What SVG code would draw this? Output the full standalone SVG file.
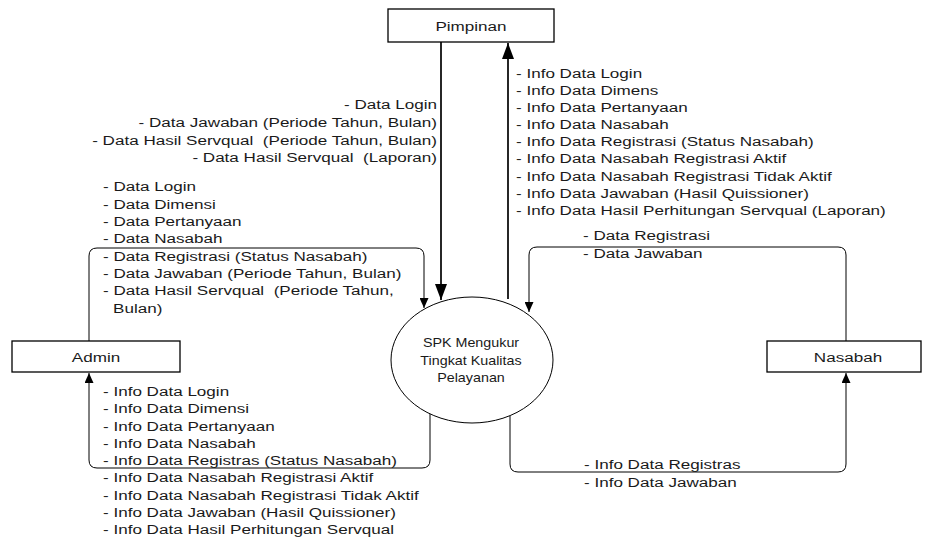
<svg xmlns="http://www.w3.org/2000/svg" width="925" height="539" viewBox="0 0 925 539">
<style>
  text { font-family: "Liberation Sans", Arial, sans-serif; font-size: 13.5px; fill: #1a1a1a; }
  .box { fill: #fff; stroke: #000; stroke-width: 1.3; }
  .flow { fill: none; stroke: #000; stroke-width: 1; }
  .main { fill: none; stroke: #000; stroke-width: 1.7; }
</style>
<defs>
  <marker id="big" viewBox="0 0 16 12" refX="16" refY="6" markerWidth="16" markerHeight="12" markerUnits="userSpaceOnUse" orient="auto">
    <path d="M0,0 L16,6 L0,12 z" fill="#000"/>
  </marker>
  <marker id="small" viewBox="0 0 10 9" refX="10" refY="4.5" markerWidth="10" markerHeight="9" markerUnits="userSpaceOnUse" orient="auto">
    <path d="M0,0 L10,4.5 L0,9 z" fill="#000"/>
  </marker>
</defs>
<rect width="925" height="539" fill="#fff"/>

<g id="connectors">
  <path class="main" d="M441,42 V300" marker-end="url(#big)"/>
  <path class="main" d="M508,299 V43" marker-end="url(#big)"/>
  <path class="flow" d="M89,341 V256 Q89,248 97,248 H416 Q424,248 424,256 V308" marker-end="url(#small)"/>
  <path class="flow" d="M430,412 V460 Q430,468 422,468 H97 Q89,468 89,460 V373" marker-end="url(#small)"/>
  <path class="flow" d="M846,341 V255 Q846,247 838,247 H537 Q529,247 529,255 V312" marker-end="url(#small)"/>
  <path class="flow" d="M510,415 V464 Q510,472 518,472 H838 Q846,472 846,464 V373" marker-end="url(#small)"/>
</g>

<g id="pimpinan">
  <rect class="box" x="388" y="9" width="166" height="33"/>
  <g transform="translate(471,0) scale(1.265,1)"><text x="0" y="31" text-anchor="middle">Pimpinan</text></g>
</g>

<g id="admin">
  <rect class="box" x="12" y="341" width="168" height="31"/>
  <g transform="translate(96,0) scale(1.265,1)"><text x="0" y="362" text-anchor="middle">Admin</text></g>
</g>

<g id="nasabah">
  <rect class="box" x="767" y="341" width="154" height="31"/>
  <g transform="translate(848,0) scale(1.265,1)"><text x="0" y="362" text-anchor="middle">Nasabah</text></g>
</g>

<g id="spk">
  <ellipse cx="472" cy="360" rx="81" ry="63" fill="#fff" stroke="#000" stroke-width="1"/>
  <g transform="translate(471,0) scale(1.06,1)">
    <text x="0" y="347" text-anchor="middle">SPK Mengukur</text>
    <text x="0" y="365" text-anchor="middle">Tingkat Kualitas</text>
    <text x="0" y="382" text-anchor="middle">Pelayanan</text>
  </g>
</g>

<g id="labels">
  <g transform="translate(437,0) scale(1.265,1)" text-anchor="end">
    <text x="0" y="109">- Data Login</text>
    <text x="0" y="127">- Data Jawaban (Periode Tahun, Bulan)</text>
    <text x="0" y="145">- Data Hasil Servqual&#160; (Periode Tahun, Bulan)</text>
    <text x="0" y="162">- Data Hasil Servqual&#160; (Laporan)</text>
  </g>
  <g transform="translate(516,0) scale(1.265,1)">
    <text x="0" y="78">- Info Data Login</text>
    <text x="0" y="95.1">- Info Data Dimens</text>
    <text x="0" y="112.2">- Info Data Pertanyaan</text>
    <text x="0" y="129.3">- Info Data Nasabah</text>
    <text x="0" y="146.4">- Info Data Registrasi (Status Nasabah)</text>
    <text x="0" y="163.5">- Info Data Nasabah Registrasi Aktif</text>
    <text x="0" y="180.6">- Info Data Nasabah Registrasi Tidak Aktif</text>
    <text x="0" y="197.7">- Info Data Jawaban (Hasil Quissioner)</text>
    <text x="0" y="214.8">- Info Data Hasil Perhitungan Servqual (Laporan)</text>
  </g>
  <g transform="translate(103,0) scale(1.265,1)">
    <text x="0" y="191.5">- Data Login</text>
    <text x="0" y="208.8">- Data Dimensi</text>
    <text x="0" y="226.1">- Data Pertanyaan</text>
    <text x="0" y="243.4">- Data Nasabah</text>
    <text x="0" y="260.7">- Data Registrasi (Status Nasabah)</text>
    <text x="0" y="278">- Data Jawaban (Periode Tahun, Bulan)</text>
    <text x="0" y="295.3">- Data Hasil Servqual&#160; (Periode Tahun,</text>
    <text x="8" y="312.6">Bulan)</text>
  </g>
  <g transform="translate(103,0) scale(1.265,1)">
    <text x="0" y="396">- Info Data Login</text>
    <text x="0" y="413.3">- Info Data Dimensi</text>
    <text x="0" y="430.6">- Info Data Pertanyaan</text>
    <text x="0" y="447.9">- Info Data Nasabah</text>
    <text x="0" y="465.2">- Info Data Registras (Status Nasabah)</text>
    <text x="0" y="482.5">- Info Data Nasabah Registrasi Aktif</text>
    <text x="0" y="499.8">- Info Data Nasabah Registrasi Tidak Aktif</text>
    <text x="0" y="517.1">- Info Data Jawaban (Hasil Quissioner)</text>
    <text x="0" y="534.4">- Info Data Hasil Perhitungan Servqual</text>
  </g>
  <g transform="translate(583,0) scale(1.265,1)">
    <text x="0" y="240">- Data Registrasi</text>
    <text x="0" y="258">- Data Jawaban</text>
  </g>
  <g transform="translate(584,0) scale(1.265,1)">
    <text x="0" y="469">- Info Data Registras</text>
    <text x="0" y="487">- Info Data Jawaban</text>
  </g>
</g>
</svg>
